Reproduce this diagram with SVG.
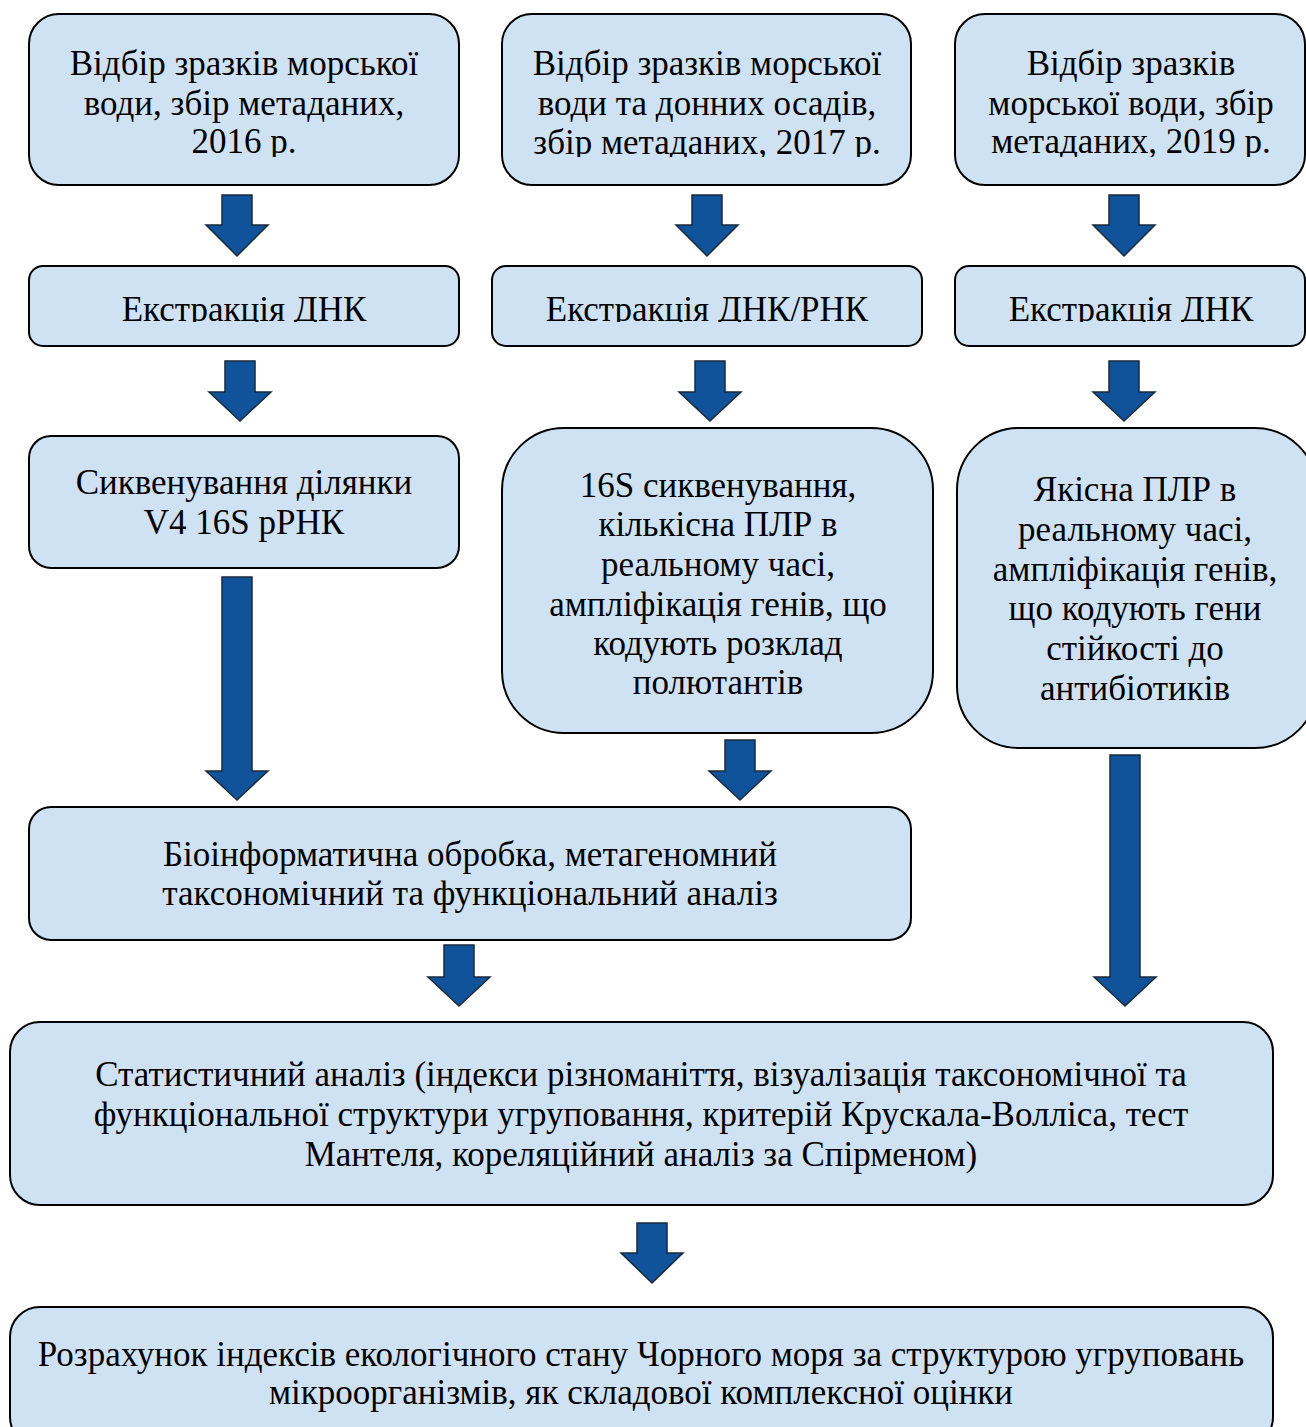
<svg xmlns="http://www.w3.org/2000/svg" width="1306" height="1427" viewBox="0 0 1306 1427">
<style>
.box{fill:#cfe2f3;stroke:#000;stroke-width:2}
.arr{fill:#10539a;stroke:#1a2a3a;stroke-width:1.5}
text{font-family:"Liberation Serif","Times New Roman",serif;font-size:35px;fill:#000;text-anchor:middle}
</style>
<defs>
<clipPath id="c1"><rect x="0" y="0" width="1306" height="157"/></clipPath>
<clipPath id="c2"><rect x="0" y="260" width="1306" height="62"/></clipPath>
</defs>
<rect width="1306" height="1427" fill="#fff"/>
<g id="connectors">
<polygon class="arr" points="222,195 252,195 252,225 268,225 237,256 206,225 222,225"/>
<polygon class="arr" points="692,195 722,195 722,225 738,225 707,256 676,225 692,225"/>
<polygon class="arr" points="1109,195 1139,195 1139,225 1155,225 1124,256 1093,225 1109,225"/>
<polygon class="arr" points="225,361 255,361 255,392 271,392 240,421 209,392 225,392"/>
<polygon class="arr" points="695,361 725,361 725,392 741,392 710,421 679,392 695,392"/>
<polygon class="arr" points="1109,361 1139,361 1139,392 1155,392 1124,421 1093,392 1109,392"/>
<polygon class="arr" points="222,577 252,577 252,771 268,771 237,800 206,771 222,771"/>
<polygon class="arr" points="725,740 755,740 755,771 771,771 740,800 709,771 725,771"/>
<polygon class="arr" points="1110,755 1140,755 1140,977 1156,977 1125,1006 1094,977 1110,977"/>
<polygon class="arr" points="444,945 474,945 474,977 490,977 459,1006 428,977 444,977"/>
<polygon class="arr" points="637,1223 667,1223 667,1253 683,1253 652,1283 621,1253 637,1253"/>
</g>
<g id="n1">
<rect class="box" x="29" y="14" width="430" height="171" rx="30"/>
<g clip-path="url(#c1)"><text x="244" y="75">Відбір зразків морської</text><text x="244" y="115">води, збір метаданих,</text><text x="244" y="153">2016 р.</text></g>
</g>
<g id="n2">
<rect class="box" x="502" y="14" width="409" height="171" rx="30"/>
<g clip-path="url(#c1)"><text x="707" y="75">Відбір зразків морської</text><text x="707" y="115">води та донних осадів,</text><text x="707" y="154">збір метаданих, 2017 р.</text></g>
</g>
<g id="n3">
<rect class="box" x="955" y="14" width="350" height="171" rx="30"/>
<g clip-path="url(#c1)"><text x="1131" y="75">Відбір зразків</text><text x="1131" y="115">морської води, збір</text><text x="1131" y="153">метаданих, 2019 р.</text></g>
</g>
<g id="n4">
<rect class="box" x="29" y="266" width="430" height="80" rx="14"/>
<g clip-path="url(#c2)"><text x="244" y="321">Екстракція ДНК</text></g>
</g>
<g id="n5">
<rect class="box" x="492" y="266" width="430" height="80" rx="14"/>
<g clip-path="url(#c2)"><text x="707" y="321">Екстракція ДНК/РНК</text></g>
</g>
<g id="n6">
<rect class="box" x="955" y="266" width="350" height="80" rx="14"/>
<g clip-path="url(#c2)"><text x="1131" y="321">Екстракція ДНК</text></g>
</g>
<g id="n7">
<rect class="box" x="29" y="436" width="430" height="132" rx="22"/>
<text x="244" y="494">Сиквенування ділянки</text><text x="244" y="534">V4 16S рРНК</text>
</g>
<g id="n8">
<rect class="box" x="502" y="428" width="431" height="305" rx="62"/>
<text x="718" y="497">16S сиквенування,</text><text x="718" y="536">кількісна ПЛР в</text><text x="718" y="576">реальному часі,</text><text x="718" y="616">ампліфікація генів, що</text><text x="718" y="655">кодують розклад</text><text x="718" y="694">полютантів</text>
</g>
<g id="n9">
<rect class="box" x="957" y="428" width="360" height="320" rx="62"/>
<text x="1135" y="501">Якісна ПЛР в</text><text x="1135" y="541">реальному часі,</text><text x="1135" y="581">ампліфікація генів,</text><text x="1135" y="620">що кодують гени</text><text x="1135" y="660">стійкості до</text><text x="1135" y="700">антибіотиків</text>
</g>
<g id="n10">
<rect class="box" x="29" y="807" width="882" height="133" rx="22"/>
<text x="470" y="866">Біоінформатична обробка, метагеномний</text><text x="470" y="905">таксономічний та функціональний аналіз</text>
</g>
<g id="n11">
<rect class="box" x="10" y="1022" width="1263" height="183" rx="30"/>
<text x="641" y="1086">Статистичний аналіз (індекси різноманіття, візуалізація таксономічної та</text><text x="641" y="1126">функціональної структури угруповання, критерій Крускала-Волліса, тест</text><text x="641" y="1166">Мантеля, кореляційний аналіз за Спірменом)</text>
</g>
<g id="n12">
<rect class="box" x="10" y="1307" width="1263" height="140" rx="30"/>
<text x="641" y="1366">Розрахунок індексів екологічного стану Чорного моря за структурою угруповань</text><text x="641" y="1404">мікроорганізмів, як складової комплексної оцінки</text>
</g>
</svg>
